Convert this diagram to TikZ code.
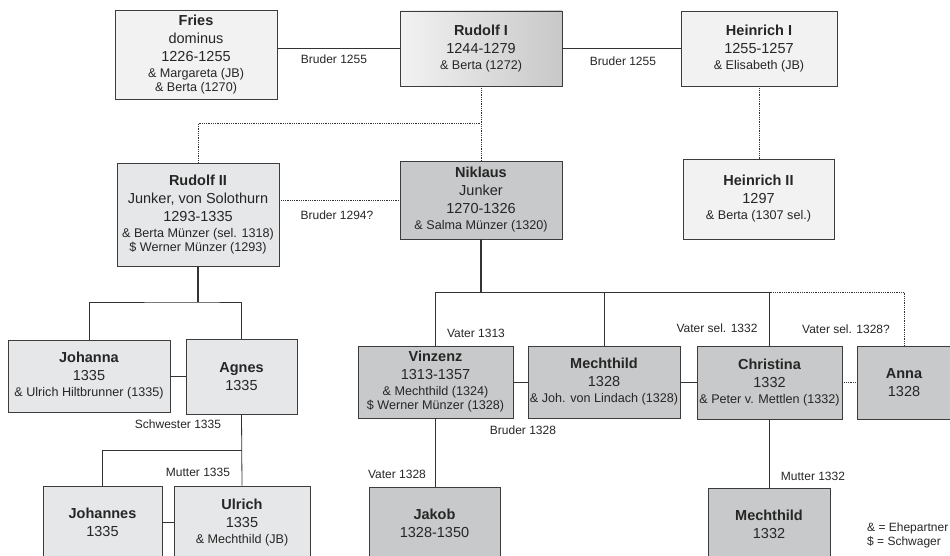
\documentclass[tikz,border=0pt]{standalone}
\usepackage{fontspec}
\setmainfont{Liberation Sans}
\usetikzlibrary{calc}
\definecolor{boxline}{HTML}{3C3C3C}
\definecolor{linkline}{HTML}{333333}
\definecolor{fillone}{HTML}{F2F2F2}
\definecolor{filltwo}{HTML}{E6E7E8}
\definecolor{fillthree}{HTML}{C8C9CA}
\definecolor{fillshade}{HTML}{C8C8C8}
\newcommand{\sm}[1]{{\fontsize{12.6}{14}\selectfont #1}}
\begin{document}
\begin{tikzpicture}[x=1pt,y=-1pt,
    person/.style={draw=boxline,line width=0.9pt,align=center,inner sep=0pt,
      text=black!85,font=\fontsize{14.5}{18}\selectfont},
    box/.style 2 args={minimum width=#1pt,minimum height=#2pt},
    link/.style={draw=linkline,line width=0.8pt},
    stem/.style={draw=linkline,line width=1.6pt},
    dotlink/.style={draw=linkline,line width=0.8pt,densely dotted},
    lbl/.style={inner sep=0pt,text=black!85,font=\fontsize{12}{14}\selectfont}]
  \clip (0,0) rectangle (950,556);
  % first generation
  \node[person,fill=fillone,box={162}{89}] (fries) at (196,54.5)
    {\textbf{Fries}\\dominus\\1226-1255\\[-2pt]\sm{\& Margareta (JB)}\\[-4pt]\sm{\& Berta (1270)}};
  \node[person,left color=fillone,right color=fillshade,box={162}{75}] (rud1) at (481,48.5)
    {\textbf{Rudolf I}\\1244-1279\\[-2pt]\sm{\& Berta (1272)}};
  \node[person,fill=fillone,box={156}{75}] (hein1) at (759,48.5)
    {\textbf{Heinrich I}\\1255-1257\\[-2pt]\sm{\& Elisabeth (JB)}};
  % second generation
  \node[person,fill=filltwo,box={162}{103}] (rud2) at (198,214.5)
    {\textbf{Rudolf II}\\Junker, von Solothurn\\1293-1335\\[-2pt]\sm{\& Berta Münzer (sel. 1318)}\\[-4pt]\sm{\$ Werner Münzer (1293)}};
  \node[person,fill=fillthree,box={162}{78}] (nik) at (481,200)
    {\textbf{Niklaus}\\Junker\\1270-1326\\[-2pt]\sm{\& Salma Münzer (1320)}};
  \node[person,fill=fillone,box={151}{80}] (hein2) at (758.5,199)
    {\textbf{Heinrich II}\\1297\\[-2pt]\sm{\& Berta (1307 sel.)}};
  % third generation
  \node[person,fill=filltwo,box={162}{72}] (joh) at (89,376)
    {\textbf{Johanna}\\1335\\[-2pt]\sm{\& Ulrich Hiltbrunner (1335)}};
  \node[person,fill=filltwo,box={111}{75}] (agn) at (241.5,376.5)
    {\textbf{Agnes}\\1335};
  \node[person,fill=fillthree,box={155}{72}] (vin) at (435.5,382)
    {\textbf{Vinzenz}\\1313-1357\\[-2pt]\sm{\& Mechthild (1324)}\\[-4pt]\sm{\$ Werner Münzer (1328)}};
  \node[person,fill=fillthree,box={152}{72}] (mec) at (604,382)
    {\textbf{Mechthild}\\1328\\[-2pt]\sm{\& Joh. von Lindach (1328)}};
  \node[person,fill=fillthree,box={145}{73}] (chr) at (769.5,382.5)
    {\textbf{Christina}\\1332\\[-2pt]\sm{\& Peter v. Mettlen (1332)}};
  \node[person,fill=fillthree,box={94}{73}] (anna) at (904,382.5)
    {\textbf{Anna}\\1328};
  % fourth generation
  \node[person,fill=filltwo,box={119}{72}] (jhs) at (102.5,522)
    {\textbf{Johannes}\\1335};
  \node[person,fill=filltwo,box={136}{74}] (ulr) at (242,523)
    {\textbf{Ulrich}\\1335\\[-2pt]\sm{\& Mechthild (JB)}};
  \node[person,fill=fillthree,box={131}{72}] (jak) at (434.5,523)
    {\textbf{Jakob}\\1328-1350};
  \node[person,fill=fillthree,box={122}{72}] (mec2) at (769,524)
    {\textbf{Mechthild}\\1332};
  % forks
  \coordinate (rudfork) at ($(rud1.south)!0.5!(nik.north)$);
  \coordinate (r2fork) at (rud2.south |- 0,302);
  \coordinate (agfork) at (agn.south |- 0,450);
  \coordinate (nkfork) at (nik.south |- 0,292);
  % connectors
  \draw[link] (fries.east |- rud1) -- (rud1.west);
  \draw[link] (rud1.east) -- (hein1.west);
  \draw[dotlink] (rud1.south) -- (nik.north);
  \draw[dotlink] (rud2.north) |- (rudfork);
  \draw[dotlink] (hein1.south) -- (hein1.south |- hein2.north);
  \draw[dotlink] (rud2.east |- nik.west) -- (nik.west);
  \draw[stem] (rud2.south) -- (r2fork);
  \draw[link] (joh.north) |- (r2fork) -| (agn.north);
  \draw[link] (joh.east) -- (joh.east -| agn.west);
  \draw[link] (agn.south) -- (ulr.north);
  \draw[link] (jhs.north) |- (agfork);
  \draw[link] (jhs.east |- 0,522) -- (ulr.west |- 0,522);
  \draw[stem] (nik.south) -- (nkfork);
  \draw[link] (vin.north) |- (chr.north |- nkfork) -- (chr.north);
  \draw[link] (mec.north) -- (mec.north |- nkfork);
  \draw[dotlink] (chr.north |- nkfork) -| (anna.north);
  \draw[link] (vin.east) -- (mec.west);
  \draw[link] (mec.east) -- (chr.west |- mec.east);
  \draw[dotlink] (chr.east |- mec.east) -- (anna.west |- mec.east);
  \draw[link] (vin.south) -- (vin.south |- jak.north);
  \draw[link] (chr.south) -- (chr.south |- mec2.north);
  % labels
  \node[lbl] (l1) at (334,59) {Bruder 1255};
  \node[lbl] (l2) at (623,61) {Bruder 1255};
  \node[lbl] (l3) at (337,215) {Bruder 1294?};
  \node[lbl] (l4) at (178,424) {Schwester 1335};
  \node[lbl] (l5) at (198,472) {Mutter 1335};
  \node[lbl] (l6) at (476,333) {Vater 1313};
  \node[lbl] (l7) at (717,328) {Vater sel. 1332};
  \node[lbl] (l8) at (846,329) {Vater sel. 1328?};
  \node[lbl] (l9) at (523,430) {Bruder 1328};
  \node[lbl] (l10) at (397,474) {Vater 1328};
  \node[lbl] (l11) at (813,476) {Mutter 1332};
  \node[lbl,anchor=west,align=left] (legend) at (867,535) {\& = Ehepartner\\\$ = Schwager};
\end{tikzpicture}
\end{document}
